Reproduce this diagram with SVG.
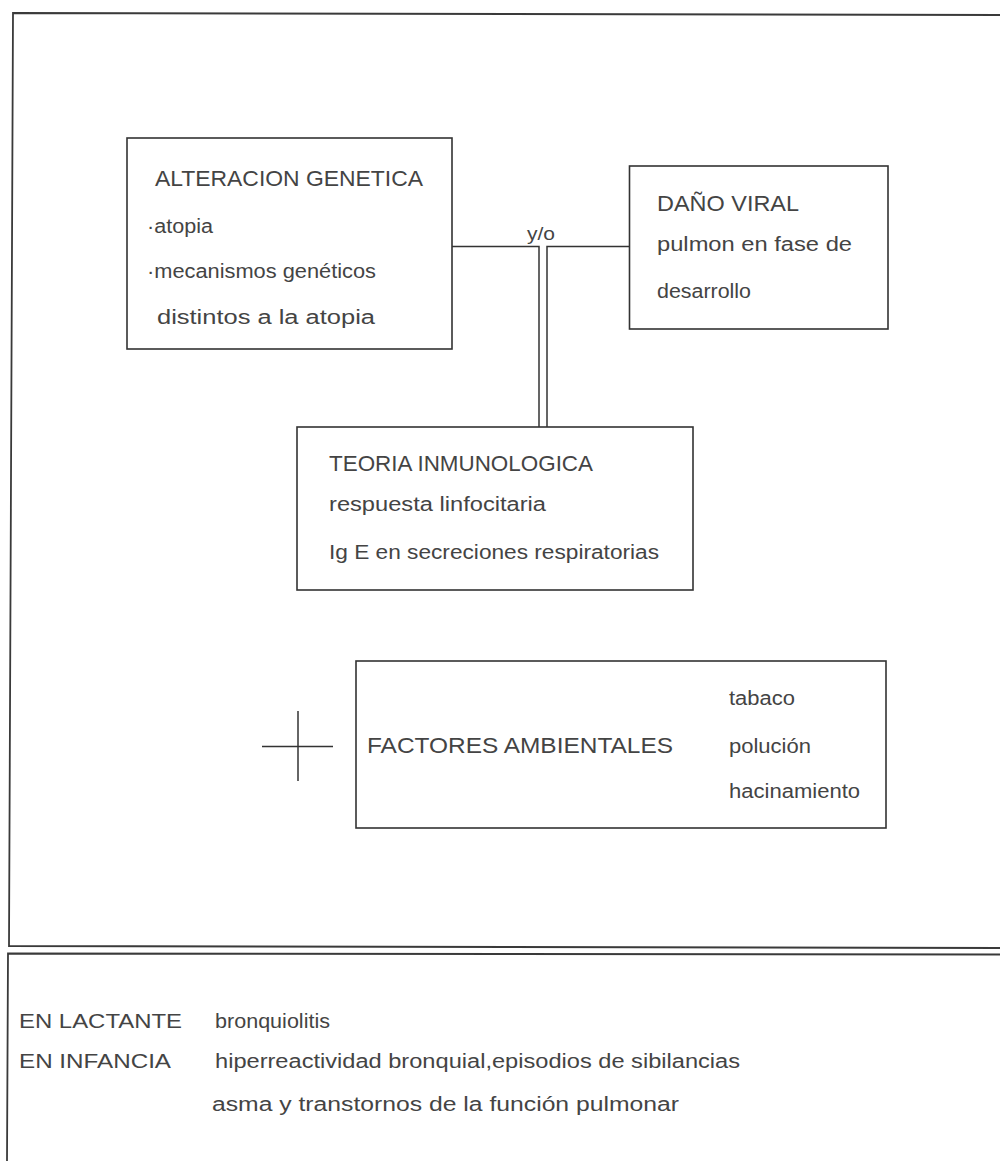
<svg xmlns="http://www.w3.org/2000/svg" width="1000" height="1161" viewBox="0 0 1000 1161">
<style>
.frame{fill:none;stroke:#3a3a3a;stroke-width:1.8}
.box{fill:none;stroke:#333;stroke-width:1.6}
.conn{fill:none;stroke:#333;stroke-width:1.5}
.t{font-family:"Liberation Sans","DejaVu Sans",sans-serif;fill:#444444}
.h{font-size:22px}
.s{font-size:20px}
</style>
<rect width="1000" height="1161" fill="#ffffff"/>
<g id="frames">
<polyline class="frame" points="1000,15 13,13 9,946 1000,948"/>
<polyline class="frame" points="1000,954.5 8,953.5 7,1161"/>
</g>
<g id="connectors">
<polyline class="conn" points="452,246.5 539,246.5 539,427"/>
<polyline class="conn" points="630,246.5 547,246.5 547,427"/>
<text class="t" x="541" y="240" font-size="18" text-anchor="middle" textLength="28" lengthAdjust="spacingAndGlyphs">y/o</text>
</g>
<g id="alteracion-genetica">
<rect class="box" x="127" y="138" width="325" height="211"/>
<text class="t h" x="155" y="186" textLength="268" lengthAdjust="spacingAndGlyphs">ALTERACION GENETICA</text>
<text class="t s" x="147" y="233" textLength="66" lengthAdjust="spacingAndGlyphs">·atopia</text>
<text class="t s" x="147" y="278" textLength="229" lengthAdjust="spacingAndGlyphs">·mecanismos genéticos</text>
<text class="t s" x="157" y="324" textLength="218" lengthAdjust="spacingAndGlyphs">distintos a la atopia</text>
</g>
<g id="dano-viral">
<rect class="box" x="629.5" y="166" width="258.5" height="163"/>
<text class="t h" x="657" y="211" textLength="142" lengthAdjust="spacingAndGlyphs">DAÑO VIRAL</text>
<text class="t s" x="657" y="251" textLength="195" lengthAdjust="spacingAndGlyphs">pulmon en fase de</text>
<text class="t s" x="657" y="298" textLength="94" lengthAdjust="spacingAndGlyphs">desarrollo</text>
</g>
<g id="teoria-inmunologica">
<rect class="box" x="297" y="427" width="396" height="163"/>
<text class="t h" x="329" y="471" textLength="264" lengthAdjust="spacingAndGlyphs">TEORIA INMUNOLOGICA</text>
<text class="t s" x="329" y="511" textLength="217" lengthAdjust="spacingAndGlyphs">respuesta linfocitaria</text>
<text class="t s" x="329" y="559" textLength="330" lengthAdjust="spacingAndGlyphs">Ig E en secreciones respiratorias</text>
</g>
<g id="plus">
<line class="conn" x1="262" y1="746.5" x2="333" y2="746.5"/>
<line class="conn" x1="298" y1="711" x2="298" y2="781"/>
</g>
<g id="factores-ambientales">
<rect class="box" x="356" y="661" width="530" height="167"/>
<text class="t h" x="367" y="753" textLength="306" lengthAdjust="spacingAndGlyphs">FACTORES AMBIENTALES</text>
<text class="t s" x="729" y="705" textLength="66" lengthAdjust="spacingAndGlyphs">tabaco</text>
<text class="t s" x="729" y="753" textLength="82" lengthAdjust="spacingAndGlyphs">polución</text>
<text class="t s" x="729" y="798" textLength="131" lengthAdjust="spacingAndGlyphs">hacinamiento</text>
</g>
<g id="consecuencias">
<text class="t" x="19" y="1028" font-size="20" textLength="163" lengthAdjust="spacingAndGlyphs">EN LACTANTE</text>
<text class="t s" x="215" y="1028" textLength="115" lengthAdjust="spacingAndGlyphs">bronquiolitis</text>
<text class="t" x="19" y="1068" font-size="20" textLength="152" lengthAdjust="spacingAndGlyphs">EN INFANCIA</text>
<text class="t s" x="215" y="1068" textLength="525" lengthAdjust="spacingAndGlyphs">hiperreactividad bronquial,episodios de sibilancias</text>
<text class="t s" x="212" y="1111" textLength="467" lengthAdjust="spacingAndGlyphs">asma y transtornos de la función pulmonar</text>
</g>
</svg>
